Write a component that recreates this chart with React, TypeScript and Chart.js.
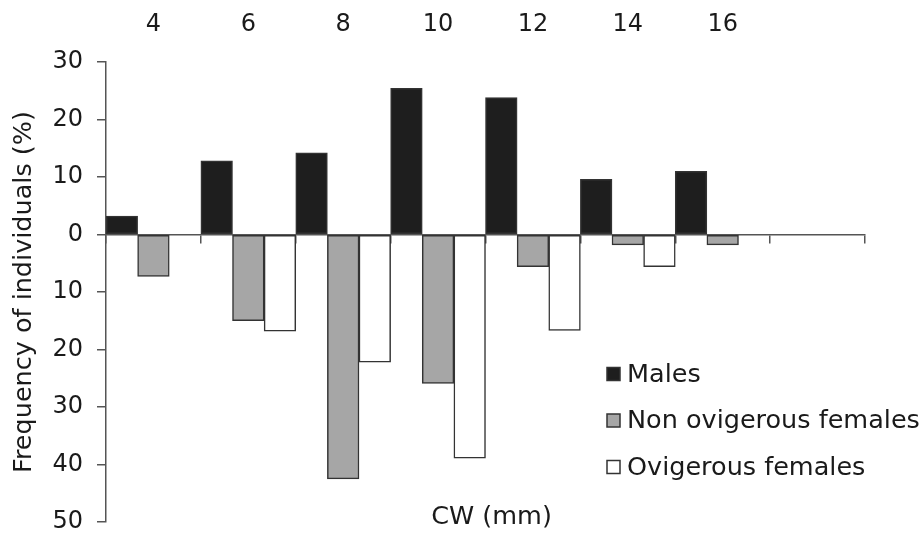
import { useEffect, useRef } from 'react';
import { Chart, registerables } from 'chart.js';

Chart.register(...registerables);

const categories = ['4', '6', '8', '10', '12', '14', '16', ''];
const males = [3.2, 12.8, 14.2, 25.4, 23.8, 9.6, 11.0, null];
const nonOvigerous = [-7.3, -15.0, -42.5, -25.9, -5.6, -1.8, -1.8, null];
const ovigerous = [0, -16.8, -22.2, -38.9, -16.7, -5.6, 0, null];
const seriesLabels = ['Males', 'Non ovigerous females', 'Ovigerous females'];
const seriesColors = ['#1e1e1e', '#a6a6a6', '#ffffff'];
const yMin = -50;
const yMax = 30;
const yStep = 10;
const xTitle = 'CW (mm)';
const yTitle = 'Frequency of individuals (%)';

const FONT = "'DejaVu Sans', Verdana, sans-serif";
const TEXT = '#1a1a1a';
const AXIS = '#555555';
const BORDER = '#333333';
const LABEL_SIZE = 25.5;

const overlayPlugin = {
  id: 'overlay',
  afterDraw(chart: any) {
    const { ctx, chartArea } = chart;
    ctx.save();
    ctx.font = `${LABEL_SIZE}px ${FONT}`;
    ctx.fillStyle = TEXT;
    ctx.textBaseline = 'middle';
    // x title
    ctx.textAlign = 'center';
    ctx.fillText(xTitle, (chartArea.left + chartArea.right) / 2 + 6, chartArea.bottom - 5);
    // legend
    ctx.textAlign = 'left';
    const lx = chartArea.right - 258;
    const ly0 = chartArea.bottom - 148;
    chart.data.datasets.forEach((ds: any, i: number) => {
      const cy = ly0 + i * 46.5;
      ctx.fillStyle = ds.backgroundColor;
      ctx.fillRect(lx, cy - 6.5, 13, 13);
      ctx.strokeStyle = BORDER;
      ctx.lineWidth = 1.5;
      ctx.strokeRect(lx, cy - 6.5, 13, 13);
      ctx.fillStyle = TEXT;
      ctx.fillText(ds.label, lx + 20, cy + 1);
    });
    ctx.restore();
  },
};

export default function App() {
  const ref = useRef<HTMLCanvasElement | null>(null);

  useEffect(() => {
    if (!ref.current) return;
    const chart = new Chart(ref.current, {
      type: 'bar',
      data: {
        labels: categories,
        datasets: [
          { label: seriesLabels[0], data: males, backgroundColor: seriesColors[0] },
          { label: seriesLabels[1], data: nonOvigerous, backgroundColor: seriesColors[1] },
          { label: seriesLabels[2], data: ovigerous, backgroundColor: seriesColors[2] },
        ].map((d) => ({
          ...d,
          borderColor: BORDER,
          borderWidth: 1.5,
          borderSkipped: false,
          categoryPercentage: 1,
          barPercentage: 1,
        })) as any,
      },
      options: {
        responsive: false,
        animation: false,
        layout: { padding: { left: 0, right: 57, top: 0, bottom: 12 } },
        plugins: {
          legend: { display: false },
          tooltip: { enabled: false },
        },
        scales: {
          x: {
            type: 'category',
            position: 'top',
            offset: true,
            grid: { display: false, drawTicks: false, offset: true },
            border: { display: false },
            ticks: { font: { family: FONT, size: 24 }, color: TEXT, padding: 23, maxRotation: 0, autoSkip: false },
            afterFit: (s: any) => {
              s.height = 62;
            },
          },
          x2: {
            type: 'category',
            axis: 'x',
            position: { y: 0 },
            offset: true,
            grid: { display: true, drawOnChartArea: false, drawTicks: true, tickLength: 8, offset: true, color: AXIS, lineWidth: 1.5 },
            border: { display: true, color: AXIS, width: 1.5 },
            ticks: { display: false },
          },
          y: {
            min: yMin,
            max: yMax,
            grid: { drawOnChartArea: false, drawTicks: true, tickLength: 9, color: AXIS, lineWidth: 1.5 },
            border: { display: true, color: AXIS, width: 1.5 },
            ticks: {
              stepSize: yStep,
              font: { family: FONT, size: 24 },
              color: TEXT,
              padding: 14,
              callback: (v: any) => String(Math.abs(Number(v))),
            },
            title: {
              display: true,
              text: yTitle,
              font: { family: FONT, size: LABEL_SIZE },
              color: TEXT,
              padding: { top: 9, bottom: 0 },
            },
            afterFit: (s: any) => {
              s.width = 106;
              s.paddingTop = 0;
              s.paddingBottom = 0;
            },
          },
        },
      } as any,
      plugins: [overlayPlugin],
    });
    return () => chart.destroy();
  }, []);

  return (
    <div style={{ position: 'absolute', left: 0, top: 0, width: 922, height: 534, background: '#fff' }}>
      <canvas ref={ref} width={922} height={534} style={{ width: 922, height: 534 }} />
    </div>
  );
}
